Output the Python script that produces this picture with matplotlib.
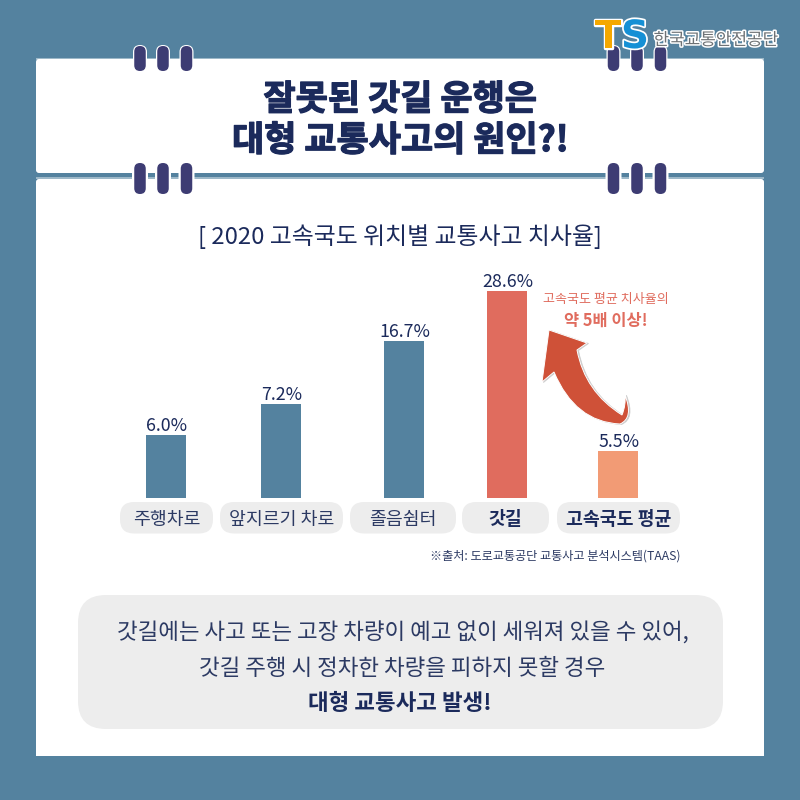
import numpy as np
import matplotlib
matplotlib.use("Agg")
import matplotlib.pyplot as plt
import matplotlib.patheffects as pe
from matplotlib.patches import FancyBboxPatch, PathPatch, Rectangle
from matplotlib.path import Path

plt.rcParams['font.family'] = ['Noto Sans CJK KR', 'DejaVu Sans']

# ---- data ----
categories = ['주행차로', '앞지르기 차로', '졸음쉼터', '갓길', '고속국도 평균']
values = [6.0, 7.2, 16.7, 28.6, 5.5]
value_labels = ['6.0%', '7.2%', '16.7%', '28.6%', '5.5%']
bold_flags = [False, False, False, True, True]
title_lines = ['잘못된 갓길 운행은', '대형 교통사고의 원인?!']
subtitle = '[ 2020 고속국도 위치별 교통사고 치사율]'
source = '※출처: 도로교통공단 교통사고 분석시스템(TAAS)'
note_lines = ['갓길에는 사고 또는 고장 차량이 예고 없이 세워져 있을 수 있어,',
              '갓길 주행 시 정차한 차량을 피하지 못할 경우']
note_bold = '대형 교통사고 발생!'
callout = ['고속국도 평균 치사율의', '약 5배 이상!']
logo_text = '한국교통안전공단'

# the reference bars are not proportional: value -> drawn height (px) knots
scale_values = [0, 5.5, 6.0, 7.2, 16.7, 28.6, 35]
scale_heights = [0, 47, 63, 94, 157, 207, 240]

# ---- style ----
BG = '#54829F'; NAVY = '#1B2A5B'; RING = '#3D3C73'; BLUE = '#54829F'
RED = '#E06C5E'; ORANGE = '#F29B75'; PILL = '#EDEDED'; ARROW = '#CF5138'
TXT = '#2C3A63'; LIGHT = '#9DB8C8'
bar_x = [166, 281, 404, 507, 618]
bar_colors = [BLUE, BLUE, BLUE, RED, ORANGE]
pill_spans = [(120, 213), (220, 343), (350, 456), (462, 549), (557, 680)]

fig = plt.figure(figsize=(8, 8), dpi=100, facecolor=BG)
bg = fig.add_axes([0, 0, 1, 1], zorder=0)
bg.set_xlim(0, 800); bg.set_ylim(800, 0); bg.axis('off')

def rrect(ax, x0, y0, x1, y1, r, fc, z=1):
    p = FancyBboxPatch((x0 + r, y0 + r), x1 - x0 - 2 * r, y1 - y0 - 2 * r,
                       boxstyle=f'round,pad={r},rounding_size={r}', fc=fc, ec='none', lw=0, zorder=z)
    ax.add_patch(p)
    return p

# cards
bg.add_patch(Rectangle((36, 177), 728, 2, fc=LIGHT, ec='none', zorder=1.5))
bg.add_patch(Rectangle((36, 58), 728, 2, fc=LIGHT, ec='none', zorder=1.5))
rrect(bg, 36, 59, 764, 173, 3, 'white', z=2)
rrect(bg, 36, 179, 764, 770, 3, 'white', z=2)
bg.add_patch(Rectangle((36, 756), 728, 44, fc=BG, ec='none', zorder=3))

# binder rings
for cx in (140, 163, 186.5, 613.5, 637, 660.5):
    rrect(bg, cx - 7, 45, cx + 7, 72, 7, 'white', z=3)
    rrect(bg, cx - 5.75, 46, cx + 5.75, 71, 5.75, RING, z=4)
    rrect(bg, cx - 8, 172, cx + 8, 180, 0.5, 'white', z=3)
    rrect(bg, cx - 5.75, 163, cx + 5.75, 194, 5.75, RING, z=4)

# title
bold_ink = [pe.withStroke(linewidth=0.9, foreground=NAVY)]
for y, line in zip((99.5, 140.5), title_lines):
    bg.text(400, y, line, ha='center', va='center', fontsize=25.2, fontweight='black',
            color=NAVY, zorder=5, path_effects=bold_ink)
bg.text(400, 237, subtitle, ha='center', va='center', fontsize=17.2, color=NAVY, zorder=5)

# chart
axc = fig.add_axes([0, 302 / 800, 1, 240 / 800], zorder=2)
axc.patch.set_alpha(0)
axc.set_xlim(0, 800)
axc.set_yscale('function', functions=(
    lambda v: np.interp(v, scale_values, scale_heights),
    lambda h: np.interp(h, scale_heights, scale_values)))
axc.set_ylim(0, 35)
axc.axis('off')
axc.bar(bar_x, values, width=40, color=bar_colors, linewidth=0, zorder=3)
for x, v, lab in zip(bar_x, values, value_labels):
    axc.annotate(lab, (x, v), xytext=(0.5, 0), textcoords='offset points', ha='center', va='bottom',
                 fontsize=12.8, color=NAVY, zorder=4)

# category pills
for (x0, x1), cat, b in zip(pill_spans, categories, bold_flags):
    rrect(bg, x0, 502, x1, 533.5, 14, PILL, z=3)
    bg.text((x0 + x1) / 2, 519.5, cat, ha='center', va='center', fontsize=13.2,
            fontweight='bold' if b else 'regular', color=NAVY if b else TXT, zorder=5)

bg.text(680, 556, source, ha='right', va='center', fontsize=8.75, color=TXT, zorder=5)

# callout
bg.text(606, 300, callout[0], ha='center', va='center', fontsize=9.4, color=RED, zorder=5)
bg.text(606, 321, callout[1], ha='center', va='center', fontsize=11.8, fontweight='bold', color=RED, zorder=5)

# curved arrow
V = [(549, 330), (587, 343), (577, 350), (585, 392), (622, 415),
     (626, 405), (625, 395), (634, 418), (620, 424),
     (575, 422), (554, 372), (542, 382), (549, 330)]
C = [Path.MOVETO, Path.LINETO, Path.LINETO, Path.CURVE3, Path.CURVE3,
     Path.CURVE3, Path.CURVE3, Path.CURVE3, Path.CURVE3,
     Path.CURVE3, Path.CURVE3, Path.LINETO, Path.CLOSEPOLY]
arrow = Path(V, C)
shadow = Path([(px + 1.5, py + 0.5) for px, py in V], C)
bg.add_patch(PathPatch(shadow, fc='#BDBDBD', ec='#D0D0D0', lw=0.6, zorder=3.4))
bg.add_patch(PathPatch(arrow, fc=ARROW, ec='white', lw=0.7, zorder=3.5))

# note box
rrect(bg, 78, 595, 723, 729, 28, PILL, z=3)
for y, line in zip((633.5, 668.5), note_lines):
    bg.text(402.5, y, line, ha='center', va='center', fontsize=16.15, color=TXT, zorder=5)
bg.text(400, 703.5, note_bold, ha='center', va='center', fontsize=16.15, fontweight='bold', color=NAVY, zorder=5)

# logo
halo = [pe.withStroke(linewidth=2.5, foreground='white')]
bg.text(595, 37, 'T', ha='left', va='center', fontsize=28, fontweight='black', color='#F5A800',
        zorder=6, path_effects=halo, family='DejaVu Sans')
bg.text(621, 37, 'S', ha='left', va='center', fontsize=28, fontweight='black', color='#1590D5',
        zorder=6, path_effects=halo, family='DejaVu Sans')
bg.text(716, 40, logo_text, ha='center', va='center', fontsize=12.2, fontweight='medium', color='#6E7275',
        zorder=6, path_effects=[pe.withStroke(linewidth=2.2, foreground='white')])

fig.savefig('out.png', dpi=100, facecolor=BG)
